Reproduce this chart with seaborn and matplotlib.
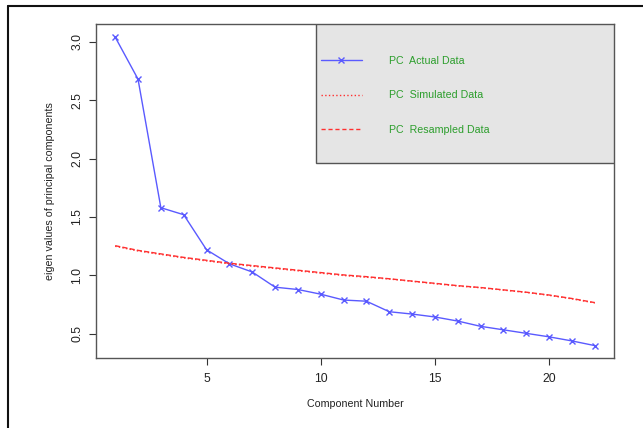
import numpy as np
import pandas as pd
import seaborn as sns
import matplotlib.pyplot as plt
from matplotlib.patches import Rectangle
from matplotlib.lines import Line2D

# values
components = list(range(1, 23))
actual = [3.04, 2.68, 1.58, 1.52, 1.22, 1.10, 1.03, 0.90, 0.88, 0.84, 0.79,
          0.78, 0.69, 0.67, 0.645, 0.61, 0.565, 0.535, 0.505, 0.475, 0.44, 0.40]
simulated = [1.25, 1.21, 1.18, 1.15, 1.125, 1.10, 1.08, 1.06, 1.04, 1.02, 1.00,
             0.985, 0.97, 0.95, 0.93, 0.91, 0.895, 0.875, 0.855, 0.83, 0.80, 0.765]
resampled = [1.255, 1.215, 1.185, 1.155, 1.13, 1.105, 1.085, 1.065, 1.045, 1.025, 1.005,
             0.99, 0.972, 0.952, 0.933, 0.913, 0.897, 0.877, 0.857, 0.833, 0.803, 0.768]
legend_labels = ["PC  Actual Data", "PC  Simulated Data", "PC  Resampled Data"]

df = pd.DataFrame({"comp": components, "actual": actual,
                   "simulated": simulated, "resampled": resampled})

sns.set_style("white")
plt.rcParams['font.family'] = ['Liberation Sans', 'DejaVu Sans']

blue = '#5a5aff'
red = '#ff3030'
green = '#2c9e2c'

fig = plt.figure(figsize=(6.43, 4.28), dpi=100)
ax = fig.add_axes([96 / 643, 70 / 428, 518 / 643, 334 / 428])

sns.lineplot(data=df, x="comp", y="actual", ax=ax, color=blue, linewidth=1,
             marker='x', markersize=5, markeredgecolor=blue, markeredgewidth=1)
sns.lineplot(data=df, x="comp", y="simulated", ax=ax, color=red, linewidth=1,
             linestyle=':')
sns.lineplot(data=df, x="comp", y="resampled", ax=ax, color=red, linewidth=1,
             linestyle='--', dashes=(3, 2))

ax.set_xlim(0.16, 22.84)
ax.set_ylim(0.294, 3.152)
ax.set_xticks([5, 10, 15, 20])
ax.set_yticks([0.5, 1.0, 1.5, 2.0, 2.5, 3.0])
ax.set_yticklabels(['0.5', '1.0', '1.5', '2.0', '2.5', '3.0'], rotation=90, va='center')
ax.tick_params(axis='both', direction='out', length=5, width=0.8, color='#333333',
               labelsize=8.8, labelcolor='#222222', bottom=True, left=True)
ax.tick_params(axis='x', pad=6)
ax.tick_params(axis='y', pad=4)
for s in ax.spines.values():
    s.set_color('#555555')
    s.set_linewidth(1)

ax.set_xlabel("Component Number", fontsize=7.7, color='#222222', labelpad=10)
ax.set_ylabel("eigen values of principal components", fontsize=7.7, color='#222222', labelpad=12)

# grey legend box
x0 = (316 - 96) / 518
y0 = (358 - 163) / 334
ax.add_patch(Rectangle((x0, y0), 1 - x0, 1 - y0, transform=ax.transAxes,
                       facecolor='#e5e5e5', edgecolor='#555555', linewidth=1, zorder=3))

handles = [Line2D([], [], color=blue, linewidth=1, marker='x', markersize=4),
           Line2D([], [], color=red, linewidth=1, linestyle=':'),
           Line2D([], [], color=red, linewidth=1, linestyle='--', dashes=(3, 2))]
leg = ax.legend(handles, legend_labels, loc='upper left', frameon=False,
                bbox_to_anchor=((321 - 96) / 518, 1 - (56 - 24) / 334),
                borderpad=0, borderaxespad=0, handlelength=3.8, handletextpad=2.55,
                labelspacing=2.28, fontsize=7.7, labelcolor=green, markerfirst=True)
leg.set_zorder(4)

# outer frame of the original image
fig.add_artist(Line2D([8 / 643, 1], [1 - 6 / 428, 1 - 6 / 428], color='#111111', linewidth=1.5,
                      transform=fig.transFigure))
fig.add_artist(Line2D([8 / 643, 8 / 643], [0, 1 - 6 / 428], color='#111111', linewidth=1.5,
                      transform=fig.transFigure))

fig.savefig("out.png", dpi=100)
